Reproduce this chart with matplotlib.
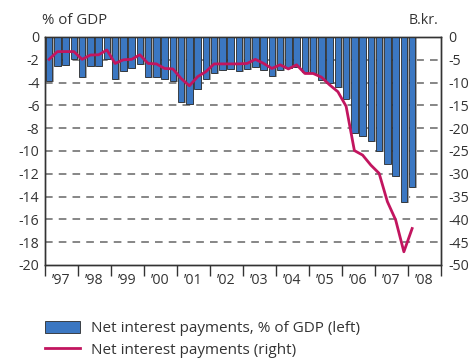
import numpy as np
import matplotlib
matplotlib.use("Agg")
import matplotlib.pyplot as plt

plt.rcParams['font.family'] = ['Open Sans', 'DejaVu Sans']

# ---- data (quarterly, 1997 Q1 - 2008 Q1) ----
YEAR_LABELS = ["’97", "’98", "’99", "’00", "’01", "’02", "’03", "’04", "’05", "’06", "’07", "’08"]

pct_gdp = [-3.9, -2.55, -2.45, -1.9, -3.5, -2.55, -2.55, -1.9, -3.7, -2.95,
           -2.75, -2.4, -3.55, -3.55, -3.7, -3.9, -5.7, -5.9, -4.6, -3.7,
           -3.2, -2.9, -2.8, -2.95, -2.8, -2.6, -2.9, -3.4, -2.9, -2.75,
           -2.6, -3.05, -3.2, -3.75, -4.0, -4.4, -5.4, -8.45, -8.7, -9.1,
           -10.0, -11.1, -12.2, -14.5, -13.2]

bkr = [-4.9, -3.2, -3.2, -3.2, -4.9, -3.95, -3.9, -2.85, -5.8, -5.0,
       -4.9, -3.9, -5.8, -5.9, -6.9, -7.0, -9.1, -10.7, -8.7, -7.6,
       -5.9, -5.9, -5.9, -5.9, -5.8, -4.9, -5.8, -6.9, -6.1, -7.0,
       -6.1, -8.0, -8.0, -8.8, -10.5, -12.0, -15.2, -24.9, -25.9, -28.1,
       -29.9, -36.1, -40.1, -47.1, -42.0]

BAR_COLOR = '#3b77c2'
LINE_COLOR = '#c2155f'
GRID_COLOR = '#666666'
TEXT_COLOR = '#333333'
FS = 10.2

# x in years since start of 1997, bar at quarter centre
x = np.arange(len(pct_gdp)) / 4 + 0.125

fig = plt.figure(figsize=(4.71, 3.63), dpi=100)
ax = fig.add_axes([45 / 471, 1 - 265 / 363, (441 - 45) / 471, (265 - 37) / 363])
ax2 = ax.twinx()

# gridlines
for g in np.arange(-2, -20, -2):
    ax.axhline(g, color=GRID_COLOR, linestyle=(0, (5, 4)), linewidth=1.1, zorder=1)

# bars with a small grey shadow
ax.bar(x + 0.045, np.array(pct_gdp) - 0.08, width=0.2, color='#a8a8a8', zorder=2)
ax.bar(x, pct_gdp, width=0.2, color=BAR_COLOR, edgecolor='#2b2b2b',
       linewidth=0.6, zorder=3, label='Net interest payments, % of GDP (left)')

ax2.plot(x, bkr, color=LINE_COLOR, linewidth=2.0, zorder=4,
         label='Net interest payments (right)')

ax.set_xlim(0, 12)
ax.set_ylim(-20, 0)
ax2.set_ylim(-50, 0)
ax.set_zorder(ax2.get_zorder() - 1)
ax.patch.set_visible(True)
ax2.patch.set_visible(False)

ax.set_yticks(np.arange(0, -21, -2))
ax.set_yticklabels([str(v) for v in range(0, -21, -2)])
ax2.set_yticks(np.arange(0, -51, -5))
ax2.set_yticklabels([str(v) for v in range(0, -51, -5)])
ax.tick_params(axis='y', length=0, pad=4, labelsize=FS, labelcolor=TEXT_COLOR)
ax2.tick_params(axis='y', length=0, pad=5, labelsize=FS, labelcolor=TEXT_COLOR)

ax.set_xticks(np.arange(0, 13))
ax.set_xticklabels([])
ax.set_xticks(np.arange(12) + 0.5, minor=True)
ax.set_xticklabels(YEAR_LABELS, minor=True)
ax.tick_params(axis='x', which='major', direction='out', length=8, width=1.0, color='#333333')
ax.tick_params(axis='x', which='minor', length=0, pad=6, labelsize=FS, labelcolor=TEXT_COLOR)

for a in (ax, ax2):
    for s in a.spines.values():
        s.set_color('#333333')
        s.set_linewidth(1.0)

fig.text(42 / 471, 1 - 20 / 363, '% of GDP', fontsize=10.8, color=TEXT_COLOR, va='center', ha='left')
fig.text(438 / 471, 1 - 21 / 363, 'B.kr.', fontsize=FS, color=TEXT_COLOR, va='center', ha='right')

handles = [ax.patches[-1], ax2.lines[0]]
labels = ['Net interest payments, % of GDP (left)', 'Net interest payments (right)']
fig.legend(handles, labels, loc='upper left', bbox_to_anchor=(39 / 471, 1 - 315 / 363),
           frameon=False, fontsize=11, labelcolor=TEXT_COLOR, handlelength=2.3,
           handleheight=0.85, labelspacing=0.4, handletextpad=0.7, borderaxespad=0)

fig.savefig('out.png', dpi=100)
